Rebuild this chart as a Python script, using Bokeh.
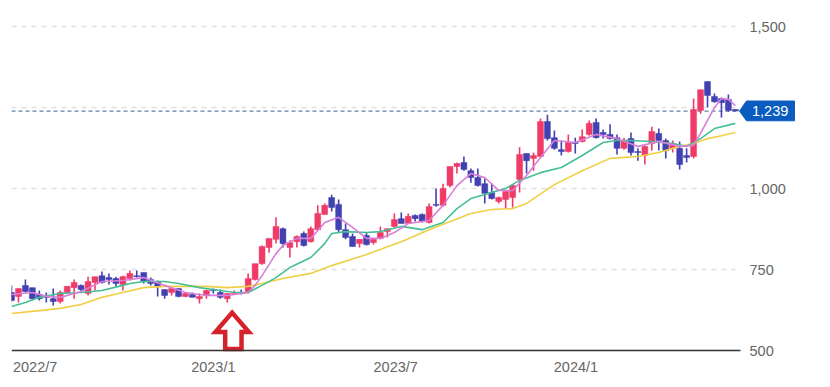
from bokeh.plotting import figure
from bokeh.models import Range1d, FixedTicker, NumeralTickFormatter
from bokeh.core.properties import value
from bokeh.embed import file_html
from bokeh.resources import INLINE

OPEN = [679,667,701,694,673,670,660,651,679,694,701,676,710,731,725,722,704,722,731,741,719,713,688,679,691,667,673,660,670,688,679,660,676,679,682,719,768,818,843,876,818,836,861,836,873,920,972,951,873,852,830,855,833,846,867,883,907,892,917,920,895,951,948,1009,1068,1080,1055,1034,1015,988,960,966,972,1028,1108,1093,1099,1207,1157,1120,1114,1142,1145,1167,1204,1173,1167,1157,1124,1154,1114,1102,1139,1170,1148,1124,1124,1102,1099,1241,1330,1284,1278,1275,1244]
HIGH = [701,691,719,694,685,679,691,685,698,719,704,728,728,744,738,728,731,747,747,741,725,716,688,691,691,679,679,676,688,691,688,676,685,688,738,768,824,846,911,880,840,855,867,883,948,954,981,966,892,861,843,864,843,883,876,923,926,923,920,923,954,1000,1015,1068,1080,1099,1062,1062,1031,1015,975,991,1012,1127,1108,1111,1216,1228,1179,1148,1167,1157,1182,1210,1216,1182,1198,1167,1157,1173,1124,1133,1191,1185,1154,1148,1145,1124,1278,1305,1330,1293,1281,1290,1244]
LOW = [651,648,679,657,654,648,639,645,676,660,679,670,685,707,704,698,685,716,725,707,701,667,660,670,664,664,664,645,660,676,660,648,673,673,676,716,765,802,830,818,787,818,821,833,873,920,929,864,843,821,818,824,827,843,849,880,892,892,898,895,892,944,944,1003,1046,1055,1018,1006,954,966,954,938,941,988,1046,1055,1096,1148,1120,1102,1111,1108,1142,1163,1154,1154,1151,1105,1120,1102,1086,1074,1117,1117,1093,1111,1059,1080,1093,1231,1250,1265,1219,1238,1238]
CLOSE = [654,691,682,660,660,664,651,679,698,710,688,713,728,710,719,707,728,738,728,713,707,698,670,691,667,676,664,667,685,685,664,676,679,676,722,768,821,846,883,830,833,852,824,876,923,948,941,873,849,821,843,827,843,864,876,904,892,914,907,898,944,948,1000,1068,1077,1059,1034,1009,985,969,972,991,1009,1105,1086,1102,1207,1154,1124,1114,1142,1139,1160,1201,1157,1167,1154,1124,1148,1111,1111,1130,1176,1148,1117,1139,1074,1096,1244,1305,1287,1268,1265,1241,1239]

MA_SHORT_I = [0,3,5,7,10,13,16,19,22,25,28,31,33,34,35,36,37,38,39,41,43,44,45,47,49,51,53,55,57,60,62,64,66,68,70,72,74,76,78,81,84,87,90,93,96,98,99,100,101,102,103,104]
MA_SHORT = [673,679,667,664,682,713,716,725,701,679,670,670,676,679,701,731,765,799,824,846,846,870,895,911,880,846,846,864,892,901,948,1009,1046,1034,994,994,1040,1096,1148,1142,1167,1154,1130,1145,1130,1133,1170,1210,1250,1278,1275,1256]
MA_MID_I = [0,2,4,7,10,13,16,17,19,22,24,27,30,32,34,36,38,40,43,45,46,48,51,53,56,59,62,64,66,69,71,73,76,79,82,85,87,89,92,95,97,99,101,104]
MA_MID = [636,648,664,676,679,685,701,707,713,713,707,694,685,679,679,701,725,756,787,830,861,867,864,867,883,873,895,938,969,988,1000,1025,1049,1065,1102,1142,1148,1148,1145,1139,1130,1154,1185,1201]
MA_LONG_I = [0,4,7,10,13,16,19,22,25,28,31,34,36,39,43,46,51,56,60,66,69,72,74,78,82,86,90,93,96,98,100,102,104]
MA_LONG = [614,623,630,642,664,679,694,698,698,698,694,698,707,722,738,762,796,836,873,923,935,938,954,1012,1055,1093,1099,1111,1130,1139,1154,1163,1173]

X_TICKS = [3.4, 29.0, 55.2, 81.1]
X_LABELS = ["2022/7", "2023/1", "2023/7", "2024/1"]
Y_TICKS = [500, 750, 1000, 1500]
GRID_TICKS = [750, 1000, 1250, 1500]
BASE = 500
LAST = 1239
LAST_TEXT = "1,239"
ARROW_I = [31.7, 34.1, 33.05, 33.05, 30.7, 30.7, 29.3]
ARROW_V = [617, 557, 557, 505, 505, 557, 557]
TAG_I = [104.6, 105.6, 112.5, 112.5, 105.6]
TAG_V = [1239, 1270, 1270, 1209, 1209]

UP = "#ef3b68"
DOWN = "#4141b2"
GREY = "#666666"
FONT = "Liberation Sans"
TAG = "#0a5cbf"

p = figure(width=822, height=379, frame_width=789, frame_height=368, toolbar_location=None, output_backend="svg",
           x_range=Range1d(0, 113.36), y_range=Range1d(419.75, 1555.6),
           y_axis_location="right", min_border_left=11, min_border_right=0,
           min_border_top=8, min_border_bottom=0, outline_line_color=None,
           background_fill_color="white", border_fill_color="white")
p.xgrid.visible = False
p.ygrid.visible = False

ax = p.xaxis[0]
ax.ticker = FixedTicker(ticks=X_TICKS)
ax.fixed_location = 419.75
ax.major_label_overrides = dict(zip(X_TICKS, X_LABELS))
ax.axis_line_color = None
ax.major_tick_line_color = None
ax.minor_tick_line_color = None
ax.major_label_standoff = -24
ax.major_label_text_font = FONT
ax.major_label_text_font_size = "14.5px"
ax.major_label_text_color = GREY

ay = p.yaxis[0]
ay.ticker = FixedTicker(ticks=Y_TICKS)
ay.formatter = NumeralTickFormatter(format="0,0")
ay.fixed_location = 110.49
ay.axis_line_color = None
ay.major_tick_line_color = None
ay.minor_tick_line_color = None
ay.major_label_standoff = -37
ay.major_label_text_font = FONT
ay.major_label_text_font_size = "14.5px"
ay.major_label_text_color = GREY

grid_n = len(GRID_TICKS)
p.segment([0] * grid_n, GRID_TICKS, [104] * grid_n, GRID_TICKS, line_color="#e0e0e0", line_dash="5 5", line_width=1.5)
p.segment([0], [LAST], [104], [LAST], line_color="#5d80aa", line_dash="4 3", line_width=1.2)

idx = list(range(len(OPEN)))
colors = [UP if c >= o else DOWN for o, c in zip(OPEN, CLOSE)]
p.segment(idx, LOW, idx, HIGH, line_color=colors, line_width=1.6)
p.vbar(idx, 0.85, OPEN, CLOSE, fill_color=colors, line_color=colors, line_width=0.5)

p.line(MA_LONG_I, MA_LONG, line_color="#f0cf45", line_width=1.6)
p.line(MA_MID_I, MA_MID, line_color="#45c095", line_width=1.6)
p.line(MA_SHORT_I, MA_SHORT, line_color="#d97fd9", line_width=1.6)

p.patch(ARROW_I, ARROW_V, fill_color="white", line_color="#d4232b", line_width=4.5, line_join="miter")
p.segment([0], [BASE], [104.74], [BASE], line_color="#333333", line_width=1.5)

p.patch(TAG_I, TAG_V, fill_color=TAG, line_color=TAG)
p.text([109.0], [LAST], text=[LAST_TEXT], text_align="center", text_baseline="middle",
       text_color="white", text_font=value(FONT), text_font_size="14.5px")

open("out.html", "w").write(file_html(p, INLINE))
